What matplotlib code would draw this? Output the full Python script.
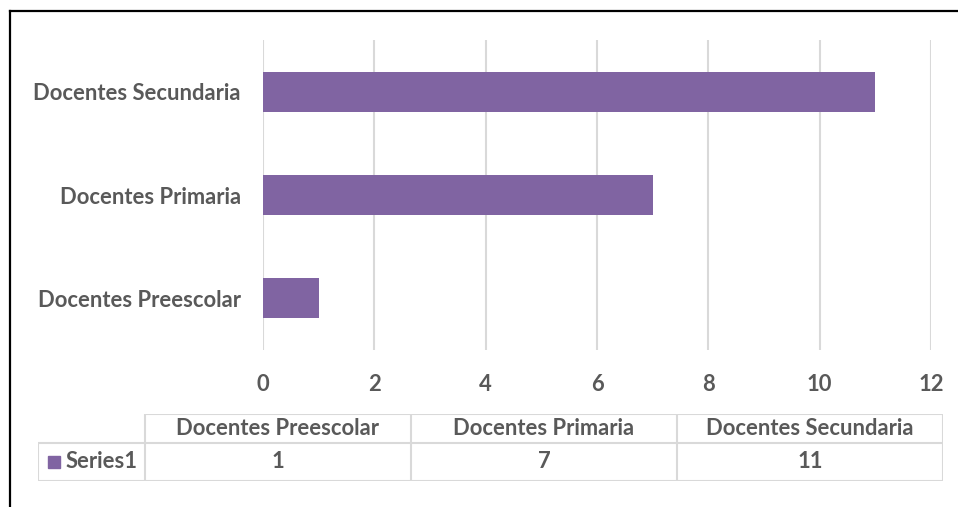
import matplotlib
matplotlib.use("Agg")
import matplotlib.pyplot as plt
from matplotlib.lines import Line2D
from matplotlib.patches import Rectangle

# ---------- DATA --------------
categories = ["Docentes Preescolar", "Docentes Primaria", "Docentes Secundaria"]
values = [1, 7, 11]
series_name = "Series1"
xticks = [0, 2, 4, 6, 8, 10, 12]
# ------------------------------

# ---------- CONFIG ------------
W, H = 958, 507
bar_color = "#8064A2"
text_color = "#595959"
grid_color = "#D9D9D9"
font = "Lato"
fsize = 15.8
# ------------------------------

plt.rcParams['font.family'] = [font, 'DejaVu Sans']

fig = plt.figure(figsize=(W / 100, H / 100), dpi=100)


def fx(px):
    return px / W


def fy(py):
    return 1 - py / H


# chart area
ax = fig.add_axes([fx(263), fy(350), fx(931) - fx(263), fy(40) - fy(350)])
pos = list(range(len(categories)))
ax.barh(pos, values, height=0.39, color=bar_color, zorder=3)
ax.set_xlim(0, 12)
ax.set_ylim(-0.5, len(categories) - 0.5)
ax.set_xticks(xticks)
ax.set_xticklabels([str(t) for t in xticks])
ax.set_yticks(pos)
ax.set_yticklabels(categories)
ax.grid(axis="x", color=grid_color, linewidth=1.5, zorder=0)
ax.tick_params(axis="both", length=0, labelcolor=text_color, labelsize=fsize)
ax.tick_params(axis="x", pad=17)
ax.tick_params(axis="y", pad=16)
for lab in ax.get_xticklabels() + ax.get_yticklabels():
    lab.set_fontweight("bold")
for s in ax.spines.values():
    s.set_visible(False)

# data table
col_w = [107] + [266] * len(categories)
edges = [0]
for w in col_w:
    edges.append(edges[-1] + w)
tx0, ty0, ty1, ty2 = 38, 414, 443, 481
tax = fig.add_axes([fx(tx0), fy(ty2), fx(tx0 + edges[-1]) - fx(tx0), fy(ty0) - fy(ty2)])
tax.set_xlim(0, edges[-1])
tax.set_ylim(ty2, ty0)
tax.axis("off")
lk = dict(color=grid_color, linewidth=1.5, solid_capstyle="butt")
# header row (no top-left cell)
tax.plot([edges[1], edges[-1]], [ty0, ty0], **lk)
tax.plot([edges[0], edges[-1]], [ty1, ty1], **lk)
tax.plot([edges[0], edges[-1]], [ty2, ty2], **lk)
for i, e in enumerate(edges):
    top = ty1 if i == 0 else ty0
    tax.plot([e, e], [top, ty2], **lk)
for i, cat in enumerate(categories):
    cx = (edges[i + 1] + edges[i + 2]) / 2
    tax.text(cx, (ty0 + ty1) / 2, cat, ha="center", va="center",
             color=text_color, fontsize=fsize, fontweight="bold")
    tax.text(cx, (ty1 + ty2) / 2, str(values[i]), ha="center", va="center",
             color=text_color, fontsize=fsize, fontweight="bold")
tax.add_patch(Rectangle((10, 456), 12, 12, color=bar_color, clip_on=False))
tax.text(28, (ty1 + ty2) / 2, series_name, ha="left", va="center",
         color=text_color, fontsize=fsize, fontweight="bold")

# outer border
fig.add_artist(Line2D([fx(10), 1], [fy(11), fy(11)], color="black", linewidth=1.6))
fig.add_artist(Line2D([fx(10), fx(10)], [fy(11), 0], color="black", linewidth=1.6))

fig.savefig("out.png", dpi=100)
